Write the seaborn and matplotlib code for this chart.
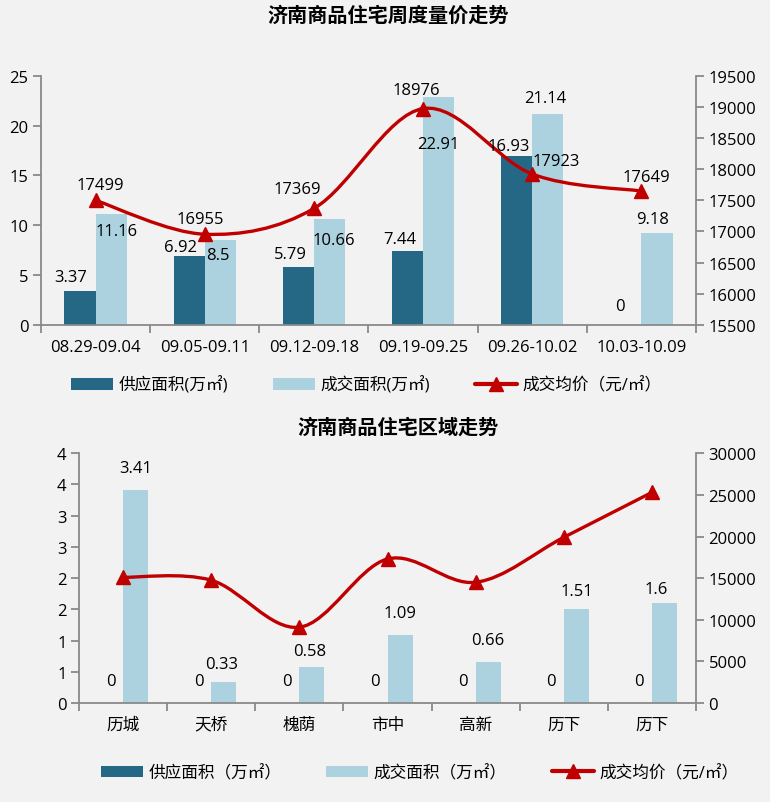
import math
import numpy as np
import pandas as pd
import matplotlib
matplotlib.use("Agg")
import matplotlib.pyplot as plt
import seaborn as sns
from matplotlib.path import Path
from matplotlib.patches import PathPatch, Patch
from matplotlib.lines import Line2D
from matplotlib.ticker import FuncFormatter, MultipleLocator


# weekly data
weeks = ["08.29-09.04", "09.05-09.11", "09.12-09.18", "09.19-09.25", "09.26-10.02", "10.03-10.09"]
week_supply = [3.37, 6.92, 5.79, 7.44, 16.93, 0]
week_deal = [11.16, 8.5, 10.66, 22.91, 21.14, 9.18]
week_price = [17499, 16955, 17369, 18976, 17923, 17649]

# district data (历下 shows up twice in the source)
districts = ["历城", "天桥", "槐荫", "市中", "高新", "历下", "历下"]
dist_supply = [0, 0, 0, 0, 0, 0, 0]
dist_deal = [3.41, 0.33, 0.58, 1.09, 0.66, 1.51, 1.6]
dist_price = [15100, 14750, 9100, 17300, 14500, 19900, 25300]

# label offsets in pixels (dx, dy), just layout
off_w_supply = [(-9, 14), (-9, 9), (-8, 13), (-8, 12), (-8, 10), (-6, 19)]
off_w_deal = [(5, -17), (-2, -15), (4, -21), (0, -47), (-3, 16), (-4, 14)]
off_w_price = [(5, 15), (-4, 15), (-17, 19), (-7, 19), (24, 13), (5, 14)]
off_d_supply = [(0, 22)] * 7
off_d_deal = [(0, 22), (-2, 18), (-2, 16), (0, 22), (0, 22), (0, 18), (-8, 14)]

DARK = "#256886"
LIGHT = "#abd2de"
RED = "#c00000"
BG = "#f2f2f2"
GREY = "#898989"

sns.set_theme(style="white")
plt.rcParams["font.family"] = ["Open Sans", "Noto Sans CJK SC", "DejaVu Sans"]
plt.rcParams["axes.unicode_minus"] = False
plt.rcParams["text.color"] = "black"
plt.rcParams["xtick.color"] = "black"
plt.rcParams["ytick.color"] = "black"
FS = 12


def smooth_path(xs, ys):
    # excel-style smoothed line: cubic bezier through the points
    pts = np.column_stack([xs, ys]).astype(float)
    n = len(pts)
    verts = [pts[0]]
    codes = [Path.MOVETO]
    for i in range(n - 1):
        p0 = pts[i - 1] if i > 0 else pts[i]
        p1 = pts[i]
        p2 = pts[i + 1]
        p3 = pts[i + 2] if i + 2 < n else pts[i + 1]
        c1 = p1 + (p2 - p0) / 6
        c2 = p2 - (p3 - p1) / 6
        verts += [c1, c2, p2]
        codes += [Path.CURVE4] * 3
    return Path(verts, codes)


def draw_panel(ax, cats, supply, deal, price, names, ylim, ystep, y2lim, y2step,
               offs_s, offs_d, offs_p, yfmt=None):
    n = len(cats)
    # use position as the category key so repeated names stay separate
    df = pd.DataFrame({
        "pos": list(range(n)) * 2,
        "val": list(supply) + list(deal),
        "series": [names[0]] * n + [names[1]] * n,
    })
    sns.barplot(data=df, x="pos", y="val", hue="series", ax=ax,
                palette=[DARK, LIGHT], width=0.57, gap=0, saturation=1,
                legend=False, errorbar=None, edgecolor="none", linewidth=0)
    ax.set_xlim(-0.5, n - 0.5)
    ax.set_ylim(*ylim)
    ax.yaxis.set_major_locator(MultipleLocator(ystep))
    if yfmt is not None:
        ax.yaxis.set_major_formatter(yfmt)
    ax.set_xlabel("")
    ax.set_ylabel("")
    ax.set_facecolor(BG)

    ax2 = ax.twinx()
    ax2.set_ylim(*y2lim)
    ax2.yaxis.set_major_locator(MultipleLocator(y2step))
    x = np.arange(n)
    ax2.add_patch(PathPatch(smooth_path(x, price), facecolor="none",
                            edgecolor=RED, lw=2.4, capstyle="round", zorder=3))
    ax2.plot(x, price, ls="none", marker="^", ms=10, color=RED, zorder=4)

    # style both axes
    for a in (ax, ax2):
        a.spines["top"].set_visible(False)
        for s in ("left", "right", "bottom"):
            a.spines[s].set_color(GREY)
            a.spines[s].set_linewidth(1.3)
        a.tick_params(axis="y", labelcolor="black", labelsize=FS, length=6,
                      width=1.3, color=GREY, pad=3, direction="out")
    ax.spines["right"].set_visible(False)
    ax2.spines["left"].set_visible(False)
    ax2.spines["bottom"].set_visible(False)
    ax.yaxis.tick_left()
    ax2.yaxis.tick_right()
    ax.set_xticks(x)
    ax.set_xticklabels(cats)
    ax.set_xticks(np.arange(-0.5, n), minor=True)
    ax.tick_params(axis="x", which="major", length=0, labelsize=FS, pad=10,
                   labelcolor="black")
    ax.tick_params(axis="x", which="minor", length=6, width=1.3, color=GREY,
                   direction="out", bottom=True)

    # labels on bars, on top of the line
    for k, (vals, offs) in enumerate([(supply, offs_s), (deal, offs_d)]):
        for bar, v, o in zip(ax.containers[k], vals, offs):
            bx = bar.get_x() + bar.get_width() / 2
            ax2.annotate(f"{v:g}", (bx, bar.get_height()), xycoords=ax.transData,
                         xytext=o, textcoords="offset pixels", ha="center",
                         va="center", fontsize=FS, zorder=6)
    if offs_p is not None:
        for xi, p, o in zip(x, price, offs_p):
            ax2.annotate(f"{p}", (xi, p), xytext=o, textcoords="offset pixels",
                         ha="center", va="center", fontsize=FS, zorder=6)
    return ax2


fig = plt.figure(figsize=(7.7, 8.03), dpi=100, facecolor=BG)

ax_top = fig.add_axes([0.0532, 0.5944, 0.8507, 0.3097])
draw_panel(ax_top, weeks, week_supply, week_deal, week_price,
           ["供应面积(万㎡)", "成交面积(万㎡)"], (0, 25), 5, (15500, 19500), 500,
           off_w_supply, off_w_deal, off_w_price)

half_up = FuncFormatter(lambda v, p: f"{math.floor(v + 0.5)}")
ax_bot = fig.add_axes([0.1026, 0.1233, 0.8013, 0.311])
draw_panel(ax_bot, districts, dist_supply, dist_deal, dist_price,
           ["供应面积（万㎡）", "成交面积（万㎡）"], (0, 4), 0.5, (0, 30000), 5000,
           off_d_supply, off_d_deal, None, yfmt=half_up)

fig.text(0.504, 1 - 17 / 803, "济南商品住宅周度量价走势", ha="center", va="center",
         fontsize=14.5, fontweight="bold")
fig.text(0.517, 1 - 429 / 803, "济南商品住宅区域走势", ha="center", va="center",
         fontsize=14.5, fontweight="bold")


def make_legend(labels, center):
    handles = [Patch(facecolor=DARK, edgecolor="none"),
               Patch(facecolor=LIGHT, edgecolor="none"),
               Line2D([], [], color=RED, lw=3, marker="^", ms=10)]
    fig.legend(handles, labels, loc="center", bbox_to_anchor=center, ncol=3,
               frameon=False, fontsize=FS, handlelength=2.5, handleheight=0.72,
               handletextpad=0.35, columnspacing=2.7)


make_legend(["供应面积(万㎡)", "成交面积(万㎡)", "成交均价（元/㎡）"], (0.476, 1 - 386 / 803))
make_legend(["供应面积（万㎡）", "成交面积（万㎡）", "成交均价（元/㎡）"], (0.545, 1 - 774 / 803))

fig.savefig("out.png", dpi=100, facecolor=BG)
